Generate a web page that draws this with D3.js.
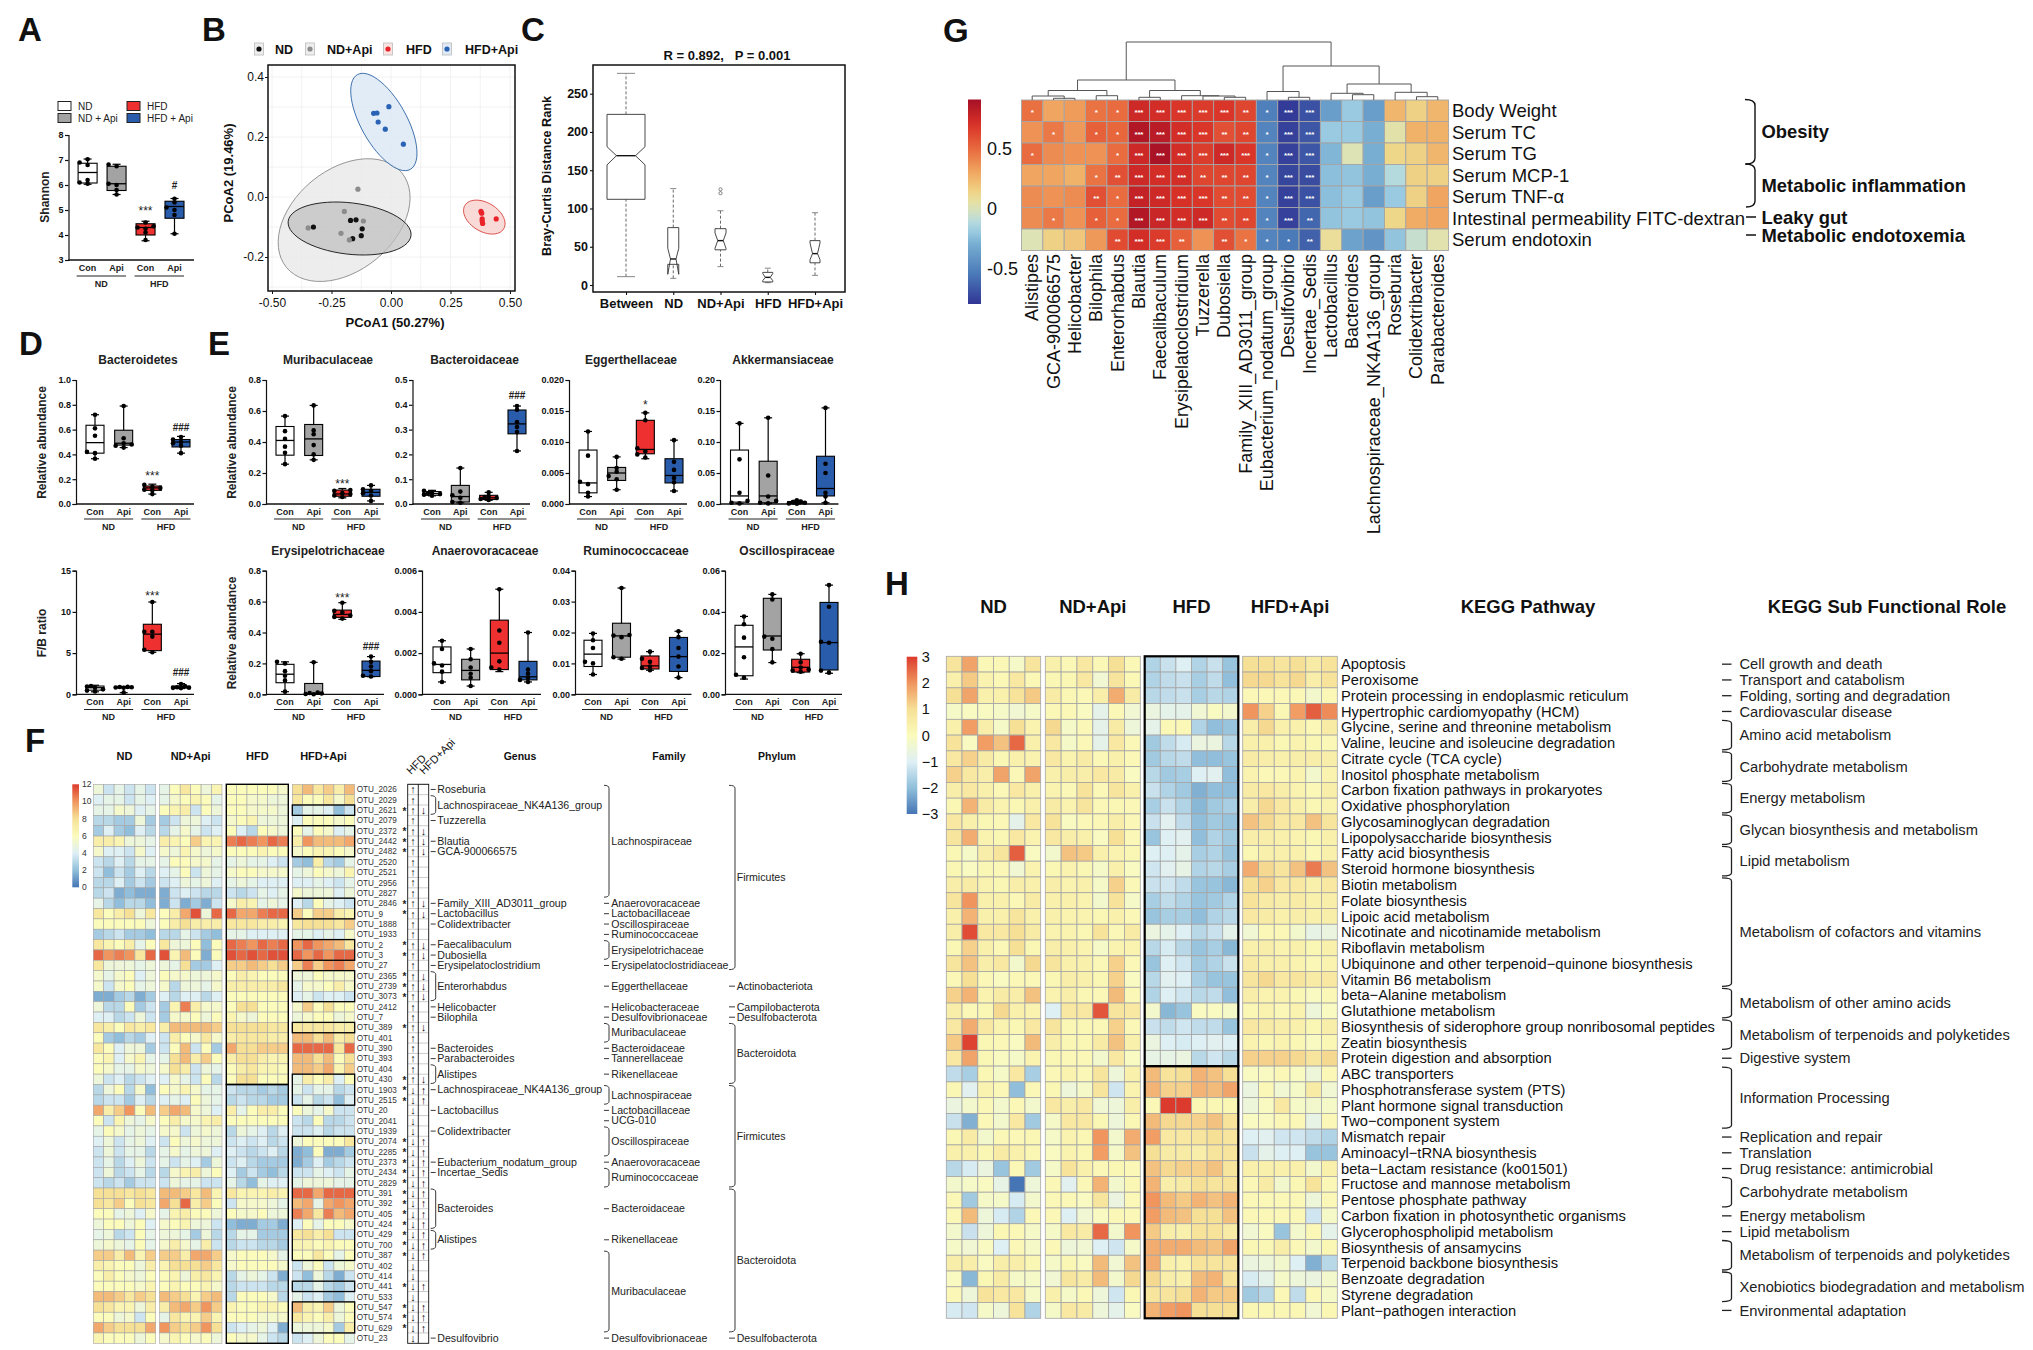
<!DOCTYPE html>
<html><head><meta charset="utf-8">
<script src="https://cdn.jsdelivr.net/npm/d3@7/dist/d3.min.js"></script>
<style>
html,body{margin:0;padding:0;background:#fff}
svg{display:block}
text{font-family:"Liberation Sans",Arial,sans-serif;fill:#111}
</style></head><body><svg id="chart" width="2033" height="1350"></svg>
<script>
// ---------- DATA ----------
const groupFills = ["#ffffff","#a3a3a3","#ef3030","#2a5cac"];
const boxFields = ["Con","Api","Con","Api"];
// five number summaries [min,q1,median,q3,max] and six animal points
const shannonBoxes=[[6.03,6.08,6.5,6.87,7.04],[5.62,5.78,6.05,6.75,6.83],[3.77,4.0,4.3,4.45,4.55],[4.05,4.67,5.14,5.35,5.46]];
const shannonPts=[[6.05,6.1,6.2,6.8,6.9,7.03],[5.62,5.8,6.0,6.05,6.75,6.82],[3.8,4.1,4.25,4.3,4.35,4.5],[4.05,4.8,5.0,5.1,5.3,5.45]];
const bacteroidetesBoxes=[[.365,.41,.495,.635,.72],[.455,.475,.49,.595,.79],[.08,.11,.13,.145,.16],[.41,.46,.5,.52,.545]];
const bacteroidetesPts=[[.365,.41,.42,.55,.61,.72],[.455,.47,.48,.49,.53,.79],[.08,.11,.115,.13,.14,.155],[.41,.47,.49,.5,.52,.54]];
const fbBoxes=[[.3,.5,.8,1.0,1.1],[.2,.8,.85,.9,.95],[5.1,5.3,7.3,8.5,11.2],[.7,.75,.85,1.0,1.3]];
const fbPts=[[.35,.45,.6,.8,.95,1.0],[.2,.8,.82,.85,.88,.9],[5.1,5.4,7.0,7.6,7.6,11.2],[.75,.78,.8,.85,1.0,1.25]];
const muriBoxes=[[.257,.315,.41,.5,.567],[.285,.313,.42,.513,.636],[.04,.05,.065,.09,.1],[.02,.05,.075,.095,.12]];
const muriPts=[[.257,.33,.37,.42,.47,.567],[.285,.32,.38,.45,.475,.636],[.045,.055,.065,.07,.085,.09],[.02,.055,.07,.085,.095,.12]];
const bacteroidaceaeBoxes=[[.033,.035,.042,.05,.055],[.005,.008,.03,.075,.145],[.015,.018,.025,.035,.047],[.214,.283,.323,.379,.395]];
const bacteroidaceaePts=[[.033,.037,.04,.043,.048,.053],[.005,.008,.025,.035,.05,.145],[.016,.02,.024,.028,.032,.047],[.214,.29,.31,.33,.38,.395]];
const eggerBoxes=[[.0012,.0018,.0034,.0087,.0117],[.0023,.0038,.005,.0059,.0076],[.0073,.0081,.0088,.0135,.0147],[.0021,.0034,.0046,.0073,.0103]];
const eggerPts=[[.0012,.0018,.0032,.0036,.0078,.0117],[.0023,.004,.0045,.0052,.0058,.0076],[.0075,.008,.0085,.009,.0135,.0147],[.0021,.0035,.0042,.0055,.0068,.0103]];
const akkerBoxes=[[.001,.003,.013,.087,.13],[.001,.002,.013,.069,.139],[0,.0005,.002,.004,.006],[.002,.013,.025,.077,.155]];
const akkerPts=[[.001,.002,.005,.018,.072,.13],[.001,.002,.005,.012,.046,.139],[.0005,.001,.002,.003,.004,.006],[.002,.012,.018,.05,.065,.155]];
const erysBoxes=[[.017,.075,.13,.194,.21],[0,0,.005,.07,.207],[.485,.498,.517,.545,.593],[.114,.115,.155,.215,.244]];
const erysPts=[[.017,.09,.12,.15,.2,.21],[0,.002,.005,.008,.012,.207],[.49,.5,.51,.53,.54,.593],[.115,.12,.15,.18,.21,.244]];
const anaeroBoxes=[[.0006,.00105,.00145,.0023,.0026],[.0004,.0007,.00116,.0017,.0022],[.0011,.0012,.002,.0036,.0051],[.0006,.0007,.00085,.0016,.003]];
const anaeroPts=[[.0006,.0011,.0014,.0015,.0022,.0026],[.0004,.0008,.001,.0013,.0017,.0022],[.0012,.0013,.0016,.0025,.0031,.0051],[.0006,.0007,.0008,.001,.0012,.003]];
const rumiBoxes=[[.0064,.009,.013,.0175,.0197],[.0114,.012,.0189,.023,.0344],[.0078,.0082,.0092,.0124,.0138],[.0054,.0074,.0122,.0184,.0204]];
const rumiPts=[[.0064,.01,.0105,.015,.0175,.0197],[.0115,.012,.0185,.019,.0192,.0344],[.0078,.0085,.009,.0105,.0115,.0138],[.0054,.009,.0122,.015,.0185,.0204]];
const osciBoxes=[[.0074,.009,.023,.0335,.0378],[.0154,.0215,.0283,.0466,.0485],[.0105,.0108,.0131,.017,.0197],[.0102,.0118,.0251,.0446,.053]];
const osciPts=[[.008,.0095,.018,.0275,.034,.0378],[.0155,.022,.027,.028,.046,.0485],[.011,.0115,.012,.013,.0155,.0197],[.0105,.0115,.025,.0255,.0425,.053]];

const pcoaGroups=["ND","ND+Api","HFD","HFD+Api"];
const pcoaColors=["#111111","#8c8c8c","#e8232a","#2a62b5"];
const pcoaNDx=[-.17,-.147,-.121,-.125,-.161,-.326], pcoaNDy=[-.078,-.076,-.106,-.129,-.139,-.1];
const pcoaNDApix=[-.139,-.196,-.116,-.348,-.21,-.175], pcoaNDApiy=[.026,-.048,-.08,-.103,-.121,-.143];
const pcoaHFDx=[.378,.381,.383,.383,.385,.442], pcoaHFDy=[-.048,-.054,-.073,-.08,-.088,-.073];
const pcoaHFDApix=[-.009,-.073,-.059,-.054,-.024,.052], pcoaHFDApiy=[.301,.279,.28,.25,.226,.176];
// ellipses: centre x,y and two half-axis vectors in PCoA units
const ellipseNDApi=[-.197,-.077,.242,.158,-.135,.13];
const ellipseND=[-.174,-.105,.258,-.024,.013,.085];
const ellipseHFD=[.392,-.067,.0815,-.039,.031,.041];
const ellipseHFDApi=[-.03,.25,.111,-.158,-.084,-.037];

const anosimNames=["Between","ND","ND+Api","HFD","HFD+Api"];
// [whiskerLow,q1,notchLow,median,notchHigh,q3,whiskerHigh]
const anosimStats=[[10.9,112,157,169,180.7,223,276.6],[8.7,27,14,34,48,75,126],[24,46,48,58,68,73.6,97],[3,4,5.7,10,15,16.5,22],[12.6,29,33,41,55,58,94.5]];
const anosimOutliers=[[],[],[120,125],[],[]];

const corrGenera=["Alistipes","GCA-900066575","Helicobacter","Bilophila","Enterorhabdus","Blautia","Faecalibaculum","Erysipelatoclostridium","Tuzzerella","Dubosiella","Family_XIII_AD3011_group","Eubacterium_nodatum_group","Desulfovibrio","Incertae_Sedis","Lactobacillus","Bacteroides","Lachnospiraceae_NK4A136_group","Roseburia","Colidextribacter","Parabacteroides"];
const corrTraits=["Body Weight","Serum TC","Serum TG","Serum MCP-1","Serum TNF-α","Intestinal permeability FITC-dextran","Serum endotoxin"];
const corrValues=[
[.47,.3,.33,.46,.48,.74,.72,.68,.66,.68,.62,-.52,-.78,-.7,-.38,-.2,-.38,.24,.14,.24],
[.36,.44,.34,.52,.5,.85,.82,.72,.68,.58,.62,-.5,-.76,-.68,-.2,-.2,-.3,.03,.26,.26],
[.48,.38,.36,.36,.48,.75,.88,.72,.65,.74,.68,-.5,-.76,-.68,-.27,0,-.3,.12,.14,.24],
[.3,.3,.26,.46,.58,.74,.72,.72,.62,.62,.62,-.5,-.74,-.72,-.24,-.22,-.3,-.12,.14,.14],
[.38,.36,.38,.58,.48,.78,.74,.7,.68,.6,.6,-.5,-.76,-.7,-.24,-.2,-.38,-.2,.14,.3],
[.38,.44,.36,.52,.48,.85,.76,.72,.74,.6,.62,-.5,-.76,-.62,-.22,-.2,-.22,.12,.28,.3],
[0,.14,.18,.34,.6,.72,.66,.52,.36,.58,.46,-.5,-.55,-.64,.07,-.36,-.42,-.22,-.07,.02]];
const corrStars=[
["*","","","*","*","***","***","***","***","***","**","*","***","***"],
["","*","","*","*","***","***","***","***","**","**","*","***","***"],
["*","","","","*","***","***","***","***","***","***","*","***","***"],
["","","","*","**","***","***","***","**","**","**","*","***","***"],
["","","","**","*","***","***","***","***","**","**","*","***","***"],
["","*","","*","*","***","***","***","***","**","**","*","***","**"],
["","","","","**","***","***","**","","**","*","*","*","**"]];
// dendrogram: [height,left,right]; a number is a leaf column
const corrTree=[58,[20,[9.5,[4,0,[1.7,1,2]],[4.3,3,4]],[9.5,[2.7,5,6],[4.3,7,[4,8,[2.7,9,10]]]]],[34,[8.5,11,[2.7,12,13]],[16,[6.7,14,[5.3,15,16]],[7.7,17,[3.3,18,19]]]]];
const corrTopics=["Obesity","Metabolic inflammation","Leaky gut","Metabolic endotoxemia"];

const otuNames=["OTU_2026","OTU_2029","OTU_2621","OTU_2079","OTU_2372","OTU_2442","OTU_2482","OTU_2520","OTU_2521","OTU_2956","OTU_2827","OTU_2846","OTU_9","OTU_1888","OTU_1933","OTU_2","OTU_3","OTU_27","OTU_2365","OTU_2739","OTU_3073","OTU_2412","OTU_7","OTU_389","OTU_401","OTU_390","OTU_393","OTU_404","OTU_430","OTU_1903","OTU_2515","OTU_20","OTU_2041","OTU_1939","OTU_2074","OTU_2285","OTU_2373","OTU_2434","OTU_2829","OTU_391","OTU_392","OTU_405","OTU_424","OTU_429","OTU_700","OTU_387","OTU_402","OTU_414","OTU_441","OTU_533","OTU_547","OTU_574","OTU_629","OTU_23"];
const otuStarred=[2,4,5,6,11,12,15,16,18,19,20,23,28,29,30,34,35,36,37,38,39,40,41,42,43,44,45,48,50,51,52];
const otuFirstDown=29;
const otuBoxedRuns=[[2,2],[4,6],[11,12],[15,16],[18,20],[23,23],[28,30],[34,45],[48,48],[50,52]];
const otuHFDRuns=[[0,28],[29,53]];
const otuMatrix=[
[5,3.5,4.5,3.5,4.5,3.5,4.5,6,7.5,6,5,6.5,6,6,6,6,6,5.5,8,9,7.5,8.5,7,9],
[4,4.5,4.5,3.5,4.5,4,4.5,5.5,6,6.5,6,4.5,6,6,5.5,5.5,5,5,7.5,6,6,7.5,5.5,8],
[4.5,4.5,5.5,5,4,4.5,6,6.5,7,3.5,6,5,6,6,5.5,5.5,5.5,5,2.5,4.5,4.5,4,2,3.5],
[3,3,2.5,2.5,5,2.5,2.5,3.5,5,5,4,3.5,5.5,6,6.5,5,5,5,4,6,6,6,5.5,6],
[2.5,4,2.5,2,4,3,3,4.5,5.5,4.5,3.5,4,6,4,3,6,5.5,5,6,4.5,6,5.5,4,4.5],
[7,7,6.5,5,5,4.5,7,6.5,6,8.5,6.5,6.5,10.5,11,10.5,10,11,10.5,7,10,9,9,9,9.5],
[5.5,4,4,3.5,5.5,4,5.5,5,6.5,5.5,5,5.5,6,6,6,6.5,6,6,5.5,6,6.5,6.5,6,5.5],
[3.5,3,4,3,4.5,4.5,4.5,6,6,5.5,5.5,4.5,4.5,5,4.5,4.5,4,3.5,2.5,2,7,3,2.5,4.5],
[3.5,2,3.5,2.5,4,3,4,4.5,6,3.5,5,4.5,5.5,6,6,5.5,5.5,5.5,4.5,5,6,5.5,5,6.5],
[3,3,4,2.5,3.5,2.5,3.5,4,5,4.5,5,4,4.5,5,4.5,4,4,4,4,4,4.5,4,3.5,4.5],
[3,3.5,1.5,2,1.5,1.5,1.5,3.5,4,3.5,3,3,3.5,3,3.5,4.5,4,4.5,5.5,5,5,5,4,5],
[4.5,3,2,3,3,2,1.5,3.5,1.5,2.5,1.5,3.5,5.5,7,6.5,4.5,5,4.5,4,3,6,4.5,4,3.5],
[7.5,6,7,8,5,7.5,6,7,9.5,11.5,5,11,11,9.5,9.5,10.5,11,11,8.5,6,8.5,8.5,7,6.5],
[6,6,6,6,6,5,6,7,8,7,7,7,7.5,7.5,7.5,7,7,6.5,7.5,8,8,8,7.5,8.5],
[2.5,3,3.5,2.5,2.5,2,3,3,4.5,3.5,2.5,2,4.5,4.5,4,4,4,4,4.5,4.5,4,4.5,4,5.5],
[7.5,6.5,6,7,4.5,6,7.5,5,5,6,2,6,11,10.5,10,11,10.5,11,10,11,10,9.5,9,7.5],
[11,10,10.5,10,7.5,11,11.5,6.5,9,6,1.5,6,11.5,11,11.5,11,11.5,11.5,11,10,11,10,11,11],
[7.5,5,5,5,4.5,5,5,4.5,8,2.5,2.5,4,8.5,8.5,9,8.5,8,8.5,8.5,10.5,8.5,10,10.5,9.5],
[5.5,4.5,5.5,6,4,5,6,5.5,5.5,5,5,5.5,6,7,6.5,6,6,6,5,5,6,5.5,5.5,5.5],
[5.5,3.5,5.5,6,4.5,5,5.5,3,5,5,4.5,5.5,7,7,7,7,7,7.5,4.5,5.5,5.5,6,7,5.5],
[1.5,1.5,2.5,3,1.5,2.5,4,3,4,4,3,4,6,6,6,6,6,6,4,4.5,3.5,4,4,3.5],
[5,3,3,6,2.5,3.5,2.5,6.5,10.5,7,5.5,5.5,6,8,8,6,6,6,5.5,8.5,6,8,6,6],
[4,4,3,3.5,5,3.5,2.5,5.5,5.5,6,5,6,6.5,5.5,5,6,6,6,5,5.5,6,6,5,5.5],
[7.5,7,6,7.5,7,7.5,7,9,9,9,9,8.5,8,8,8,8,7.5,7.5,7.5,7.5,7.5,7.5,7,7],
[6,2.5,2,3,2.5,4,3.5,7,6,5.5,7.5,5.5,7,7.5,7.5,7.5,7,7,9,9,8,9,7,8],
[7.5,6,4,5,5,2.5,3.5,6,9,3.5,6,2.5,9.5,8,8,8.5,8.5,8.5,11,11,11,11,7.5,11],
[6,6.5,4,5.5,6.5,4.5,4.5,8,9,7,8.5,6,7,8,8,7,6.5,6.5,9,9,8,9,6,8],
[6,5.5,4.5,4.5,5.5,5,5.5,8,7,3.5,5,4.5,6,7,7.5,6.5,6.5,6,9,9,8.5,9.5,6.5,8.5],
[5,3.5,4,3,3.5,4,4,5.5,4.5,3.5,6,3,6,8,8,6,6,6,4.5,7,6,7,4,6],
[3,5,6,3,5.5,2,6,5.5,6.5,5.5,4.5,4.5,3.5,3,3,2.5,3,2.5,4.5,3.5,4.5,4.5,3,3.5],
[3,3.5,3.5,2.5,4,3,4,4.5,4,6,5,4.5,3,3.5,3,3,2.5,2.5,3.5,4.5,3,3.5,2,4],
[9.5,7,8.5,10,6,9,8.5,9.5,9,5.5,5,4,7,4.5,6,7,7,6,6,5,4.5,5.5,3.5,3.5],
[6,3.5,6.5,5,4.5,5.5,6,7,5.5,5.5,6.5,7,6,6,6,6,6,6,3.5,3,6,3,3,3.5],
[4.5,6,5.5,4.5,5,4.5,5.5,5.5,3.5,5,5.5,5,3,5,4.5,4,3,4,3.5,3.5,4,3,3.5,3.5],
[4,5,3.5,4.5,5,4,3.5,6,5,5.5,5,5,3.5,4,3.5,4,3,3.5,5,6,6,6,6,7.5],
[3.5,5,3.5,4.5,4.5,3,4.5,5.5,4.5,5,5,4,4,3.5,3,3.5,4,3,1.5,2,6,1.5,1.5,2.5],
[3.5,4.5,3,4,5,3.5,4.5,3.5,4.5,4,2.5,5,3.5,4,3,2.5,2.5,2.5,1.5,2.5,4,2.5,3,3.5],
[3.5,5,3,3.5,4.5,3,3,5.5,6.5,7,5,6,4,2.5,3.5,2.5,2,3,3.5,3.5,4.5,4,3.5,4.5],
[3.5,3,3.5,2.5,3.5,3.5,3.5,5,4.5,4.5,3.5,3.5,4.5,3,2,4.5,4,4,4.5,5,5,5,4.5,4.5],
[8,8,8,7.5,8,7.5,9,9,8.5,7.5,9,6.5,7.5,6.5,6.5,6.5,7,6.5,11,11,9.5,11,11,11],
[8,7.5,8.5,6,8,7.5,9.5,8,11,7,8.5,6,3.5,5.5,5.5,5.5,5,4.5,9,9.5,4.5,9.5,10,9.5],
[6,6,4.5,5,4,5.5,4.5,6.5,7,6,6,5,6,5.5,5.5,6,5,5,10.5,9.5,7.5,10.5,9,9.5],
[5,6,6,5,6,4,5.5,6,6.5,5,5,3.5,2,1.5,1.5,2.5,2.5,1.5,4,6,4.5,6,6,5.5],
[4.5,5,3,3.5,6,4.5,5,5,4.5,2.5,5,3,3,4.5,4.5,2.5,2.5,2.5,7.5,8,7,8,3.5,3.5],
[5,5.5,5,4.5,6,4.5,5.5,7,5.5,4.5,7,3.5,3,3.5,3.5,3,3,2.5,6.5,6.5,6,6.5,6,6],
[8.5,8.5,7,9,6.5,8.5,8.5,8.5,7,9.5,9.5,8.5,5.5,6,6,6,5.5,4.5,6,6,7.5,6,4.5,6],
[7,6.5,6,6,5,7,6.5,8,8,8,8.5,7.5,5.5,6,6,6,6,5.5,3.5,5,6,3.5,5,5.5],
[6,7,6,5.5,5,6,6,6.5,5,7,7.5,6.5,3,4.5,5,4.5,3.5,1.5,3.5,2,5,3,1.5,3.5],
[6,6,6,6,5.5,6.5,6,6.5,6,6,6.5,5.5,3,3.5,3.5,3.5,3,3,3,3,4.5,3,2.5,3.5],
[9,9,8.5,7.5,8.5,8,9,8.5,8,6.5,8.5,9,3,6,6,6,5.5,3,4.5,3.5,4,2.5,2,4],
[8,7.5,6.5,6.5,5,7,7,9,9.5,8.5,10,8.5,6.5,6,6,6.5,6.5,6,9,7,6.5,8.5,5,6],
[6,6,5,5.5,3.5,6,4.5,7.5,6.5,6.5,8.5,6.5,6,6,6,5.5,5.5,5.5,7.5,6.5,6,7,5,6],
[9.5,8.5,8,8,8,9.5,10,8.5,8,8.5,10,8,3.5,4,4.5,5,4,1.5,5,5,5,5.5,2.5,7],
[6.5,6,6,6,5,6,5.5,6.5,6,5.5,6,5,6,5.5,5.5,4.5,3.5,3,3.5,4,5,6,6,4.5]];
const heatGroups=["ND","ND+Api","HFD","HFD+Api"];
const otuGenus=[["Roseburia",0,0],["Lachnospiraceae_NK4A136_group",1,2],["Tuzzerella",3,3],["Blautia",5,5],["GCA-900066575",6,6],["Family_XIII_AD3011_group",11,11],["Lactobacillus",12,12],["Colidextribacter",13,13],["Faecalibaculum",15,15],["Dubosiella",16,16],["Erysipelatoclostridium",17,17],["Enterorhabdus",18,20],["Helicobacter",21,21],["Bilophila",22,22],["Bacteroides",25,25],["Parabacteroides",26,26],["Alistipes",27,28],["Lachnospiraceae_NK4A136_group",29,29],["Lactobacillus",31,31],["Colidextribacter",33,33],["Eubacterium_nodatum_group",36,36],["Incertae_Sedis",37,37],["Bacteroides",39,42],["Alistipes",43,44],["Desulfovibrio",53,53]];
const otuFamily=[["Lachnospiraceae",0,10],["Anaerovoracaceae",11,11],["Lactobacillaceae",12,12],["Oscillospiraceae",13,13],["Ruminococcaceae",14,14],["Erysipelotrichaceae",15,16],["Erysipelatoclostridiaceae",17,17],["Eggerthellaceae",19,19],["Helicobacteraceae",21,21],["Desulfovibrionaceae",22,22],["Muribaculaceae",23,24],["Bacteroidaceae",25,25],["Tannerellaceae",26,26],["Rikenellaceae",27,28,"dash"],["Lachnospiraceae",29,30],["Lactobacillaceae",31,31],["UCG-010",32,32],["Oscillospiraceae",33,35],["Anaerovoracaceae",36,36],["Ruminococcaceae",37,38],["Bacteroidaceae",39,42,"dash"],["Rikenellaceae",43,44,"dash"],["Muribaculaceae",45,52],["Desulfovibrionaceae",53,53]];
const otuPhylum=[["Firmicutes",0,17],["Actinobacteriota",19,19],["Campilobacterota",21,21],["Desulfobacterota",22,22],["Bacteroidota",23,28],["Firmicutes",29,38],["Bacteroidota",39,52],["Desulfobacterota",53,53]];

const pathwayNames=["Apoptosis","Peroxisome","Protein processing in endoplasmic reticulum","Hypertrophic cardiomyopathy (HCM)","Glycine, serine and threonine metabolism","Valine, leucine and isoleucine degradation","Citrate cycle (TCA cycle)","Inositol phosphate metabolism","Carbon fixation pathways in prokaryotes","Oxidative phosphorylation","Glycosaminoglycan degradation","Lipopolysaccharide biosynthesis","Fatty acid biosynthesis","Steroid hormone biosynthesis","Biotin metabolism","Folate biosynthesis","Lipoic acid metabolism","Nicotinate and nicotinamide metabolism","Riboflavin metabolism","Ubiquinone and other terpenoid−quinone biosynthesis","Vitamin B6 metabolism","beta−Alanine metabolism","Glutathione metabolism","Biosynthesis of siderophore group nonribosomal peptides","Zeatin biosynthesis","Protein digestion and absorption","ABC transporters","Phosphotransferase system (PTS)","Plant hormone signal transduction","Two−component system","Mismatch repair","Aminoacyl−tRNA biosynthesis","beta−Lactam resistance (ko01501)","Fructose and mannose metabolism","Pentose phosphate pathway","Carbon fixation in photosynthetic organisms","Glycerophospholipid metabolism","Biosynthesis of ansamycins","Terpenoid backbone biosynthesis","Benzoate degradation","Styrene degradation","Plant−pathogen interaction"];
const pathwayMatrix=[
[.8,1.8,.1,.1,-.2,.8,.4,.1,.7,.1,1,.1,-1.6,-1.3,-1,-1.6,-1.3,-1.9,1,1,.8,1,.6,.9],
[.4,1.3,.3,.1,.7,.1,.2,.2,.7,-.4,.8,.1,-1.6,-1.4,-1.3,-1.7,-1.4,-2,1.1,1.1,.9,1.1,.5,.9],
[1,1.8,.4,.4,.9,1.3,.6,.2,.1,.5,1.7,.6,-1.5,-1.4,-1.3,-1.7,-1.5,-1.6,.1,.1,.1,.1,-.3,.1],
[-.2,-.1,-.1,-.2,-.4,-.2,.1,.1,-.1,-.8,.1,-.4,-.6,-.8,-.8,-.4,-.1,-.3,2,1.2,.2,1.9,2.6,2.1],
[.4,1.9,.5,-.2,1,.3,1.1,-.2,.1,-.8,.6,-.5,-.8,.1,.1,-1.6,-2,-1.9,.5,1.1,.4,.4,.1,.6],
[.9,-.1,1.9,1.4,2.5,.4,.7,-.2,.1,-.8,.7,.1,-1.8,-1.4,-1.1,-.6,-.6,-1.5,.4,.4,.2,.3,.2,.1],
[.7,1.2,.6,.2,.4,.3,.7,.3,.6,.1,.4,.1,-1.8,-1.5,-1.4,-2,-2,-1.9,.6,.5,.4,.5,.5,.5],
[1.2,.7,.5,1.8,.1,1.8,.4,.5,.5,.7,.6,-.1,-1.5,-1.8,-1.7,-1,-.9,-2,.3,.1,.1,.3,-.3,.3],
[.5,.7,.4,.1,.7,.4,.3,.1,.9,.1,.8,.4,-1.3,-1.6,-1.8,-2.2,-2,-2,.6,.7,.5,.3,.1,.5],
[.2,1.6,.6,.3,.2,.4,.6,.3,.8,.1,.2,.1,-1.7,-1.3,-1.6,-2.1,-1.8,-1.7,.5,1.1,.7,.4,.2,.3],
[.7,.4,.2,.1,-.8,.7,.9,-.1,.1,.1,.5,.1,-1.3,-.9,-1.4,-2,-1.8,-1.9,1.4,1.1,.7,.7,1.4,.8],
[.8,1.7,.3,.2,.7,.3,.7,.5,.4,-.1,1,.1,-1.9,-1,-.9,-2,-1.6,-1.8,.5,.5,.4,.3,.2,.4],
[.2,-.2,.5,.8,2.6,-.1,-.3,1.4,1.3,.4,.3,.2,-1,-1,-.8,-1.7,-1.6,-1.9,.2,.4,.4,.4,.1,.4],
[.2,-.1,.2,.1,-.4,.3,.2,.3,.2,-.2,.4,-.1,-1.2,-.9,-.7,-1.6,-1.5,-1.7,1.7,1.1,.8,1.4,2.3,1.4],
[.5,.6,.3,.2,.5,.4,.5,.3,.4,-.2,1.2,.1,-1.3,-1.2,-1.4,-1.9,-1.9,-2.1,1,1.2,.7,.7,.4,.7],
[.8,2,.4,.4,.1,.6,.4,.4,.3,-.3,.9,-.2,-1.7,-1.4,-1.6,-1.9,-1.8,-1.6,.9,.6,.5,.6,.4,.5],
[.4,1.6,.4,.4,.8,.4,.4,.3,.3,.2,.4,.1,-1.9,-1.7,-1.7,-2,-1.6,-1.5,.7,.6,.4,.5,.4,.5],
[.5,2.8,.7,.7,1,.6,.3,.3,.2,.9,.1,.6,-.6,-.8,-1,-1.5,-1.3,-.8,-.4,.1,.1,-.3,-.7,-.6],
[.2,1.2,.4,.1,1,.2,.5,.4,.3,-.2,.3,.3,-1.5,-1.1,-1.5,-1.9,-1.7,-2.1,.4,.5,.3,.4,.2,.4],
[.8,1.4,.5,.7,-.3,1.1,.8,.4,.4,.1,1.2,.1,-1.9,-1,-1.2,-1.8,-1.6,-1.3,.6,.4,.4,.3,.1,.3],
[.1,1,.1,-.1,.1,.1,.2,.5,.4,.2,1.2,-.1,-1.5,-.9,-1,-1.7,-1.9,-1.9,.8,1.1,.7,.8,.6,.7],
[1.2,1.6,.3,.6,.5,1.4,.3,.5,.2,.1,1.5,.1,-1.6,-1,-1.2,-1.5,-1.4,-2,.5,.3,.3,.2,-.1,.1],
[.5,.1,.2,1.1,.4,.3,-1,.7,.7,2.7,.8,.7,-.3,-2.1,-1.9,-.1,-.1,-.2,.2,.3,.1,.3,-.5,-.1],
[.7,1.7,.7,.3,.2,.7,.8,.2,.2,.1,1.2,.1,-1.3,-1.4,-1.2,-1.4,-1.4,-1.9,.7,.6,.5,.4,.2,.5],
[1.3,2.9,.2,.1,-.1,1.5,.5,.2,.2,.6,1.4,.4,-.6,-1,-1.1,-1,-.9,-1,.3,.2,.3,.2,-.1,.2],
[.7,1.8,.2,-.1,-.2,.3,.2,.1,.1,-.3,.7,-.1,-.7,-.7,-.6,-1.5,-1.2,-1.5,1.2,1.2,1.2,1.1,.8,1.1],
[-1.4,-1.7,.2,-.2,.7,-1.7,.1,.3,.1,.8,-.5,.4,1.5,.9,1,1.6,1.4,1,-.1,-.1,.1,-.1,-.5,.1],
[.2,-.9,.3,.1,-2,.1,.2,-.5,-.2,.8,-1.2,.3,1.6,1.2,1.2,1.6,1.5,1.8,-.6,.1,-.4,-.2,.6,-.4],
[-.6,-.3,.1,-.3,.1,-.3,.7,.5,.7,-.4,-.5,.5,.1,3,3,.2,.2,.2,-.5,-.1,.7,-.2,-.3,-.2],
[-1.3,-2.2,.1,-.3,.7,-1.8,-.2,.7,.7,.2,-.5,.2,1.5,1.1,1.1,1.2,1.4,.9,-.1,-.1,.1,.1,-.7,.1],
[.2,.6,-.3,.1,.1,.2,-.2,.3,.2,2,-.3,1.7,1.9,.7,.7,.8,1,.8,-1,-.9,-1.2,-1.2,-1.4,-1.6],
[.4,.4,.2,.6,.4,.2,-.1,.3,.2,1.9,-.2,1.4,1,.6,.6,.5,.8,.8,-1.3,-.8,-1,-1,-1.9,-1.9],
[-1.5,-1.1,-.6,-1.9,.1,-1.8,-.2,.9,.4,.1,.2,.1,1.4,1.1,1.2,1.2,1.4,.8,.4,.4,.4,.4,-.3,.4],
[-.3,-.2,-.1,-.7,-3,-.5,.1,-.9,.1,1.6,-.3,.2,1.6,.5,.6,1,.8,.9,.1,.6,-.3,.2,.9,.1],
[.1,-1.8,-.2,-.2,-1.1,-.3,.1,.1,-.1,.8,-.6,.1,2,1.5,1.3,1.6,1.4,1.6,.1,.1,.1,.1,-.5,.1],
[.1,1.5,-.5,-1.1,-1.6,.1,.1,-1,-.4,-.1,.1,.1,1.9,1.5,1.4,1,1,1.4,.1,.1,.1,.1,-1.2,-.2],
[-.3,-1.3,-.5,.2,.1,-.2,-.2,.7,.6,2.5,-.3,2,1.3,.5,.4,.9,.9,.6,-.4,-.1,-1.9,-.3,.1,-.8],
[-.2,-.4,-.1,-1,.1,-.2,.1,-.5,-.4,-1,-1.2,-.2,1.7,1.7,1.7,1.5,1.4,1.8,.2,.2,.5,.1,-.3,.2],
[.5,.5,-.1,.5,.5,.2,-.2,.2,-.1,1.5,-.4,1.4,1.7,.4,.3,.9,.8,.8,-.6,-.5,-.3,-1,-2.2,-1.5],
[-.1,-2.1,.2,.6,-.2,-.2,-.4,.8,.6,1.5,-.3,1.1,1.1,.5,.4,1.5,1.6,.9,-1.1,-.8,-.2,-.5,-.6,-.3],
[.1,-.5,.9,.7,.7,-.2,.4,-.2,.1,-.5,-1.2,.2,.8,.8,1,1.6,1.3,1.3,-1.8,-1.5,.1,-1.4,.1,-.2],
[-1.1,-1.2,-.2,-.5,.9,-1.6,-.2,.7,.6,-.5,-.8,-.1,1.6,1.9,2,1,1,1,.2,.2,.2,.2,-.4,.2]];
const pathwayHFDRuns=[[0,25],[26,41]];
const pathwayRoles=[["Cell growth and death",0,0],["Transport and catabolism",1,1],["Folding, sorting and degradation",2,2],["Cardiovascular disease",3,3],["Amino acid metabolism",4,5],["Carbohydrate metabolism",6,7],["Energy metabolism",8,9],["Glycan biosynthesis and metabolism",10,11],["Lipid metabolism",12,13],["Metabolism of cofactors and vitamins",14,20],["Metabolism of other amino acids",21,22],["Metabolism of terpenoids and polyketides",23,24],["Digestive system",25,25],["Information Processing",26,29],["Replication and repair",30,30],["Translation",31,31],["Drug resistance: antimicrobial",32,32],["Carbohydrate metabolism",33,34],["Energy metabolism",35,35],["Lipid metabolism",36,36],["Metabolism of terpenoids and polyketides",37,38],["Xenobiotics biodegradation and metabolism",39,40],["Environmental adaptation",41,41]];

// ---------- HELPERS ----------
const svg=d3.select("#chart");
function label(g,x,y,t,o={}){
  const s=g.append("text").attr("x",x).attr("y",y).text(t)
    .attr("font-size",o.size||10).attr("text-anchor",o.anchor||"start");
  if(o.bold) s.attr("font-weight","bold");
  if(o.fill) s.style("fill",o.fill);
  if(o.rotate!==undefined) s.attr("transform",`rotate(${o.rotate},${x},${y})`);
  if(o.dy) s.attr("dy",o.dy);
  return s;
}
[["A",18,41],["B",202,41],["C",521,41],["D",19,355],["E",208,355],["F",25,752],["G",943,42],["H",885,595]]
 .forEach(d=>label(svg,d[1],d[2],d[0],{size:33,bold:true}));

function axisStyle(g,w,size,bold){
  g.selectAll("path.domain").attr("stroke","#111").attr("stroke-width",w);
  g.selectAll(".tick line").attr("stroke","#111").attr("stroke-width",w);
  g.selectAll("text").attr("font-size",size).attr("font-family",'"Liberation Sans"').attr("font-weight",bold?"bold":"normal").style("fill","#111");
}
function boxPanel(c){
  const g=svg.append("g");
  const y=d3.scaleLinear().domain(c.domain).range([c.bottom,c.top]);
  const x=d3.scaleLinear().domain([0,3]).range(c.centers);
  const ax=g.append("g").attr("transform",`translate(${c.axisX},0)`)
    .call(d3.axisLeft(y).tickValues(c.ticks).tickSize(3.5).tickPadding(1.5).tickFormat(d3.format(c.fmt)));
  axisStyle(ax,1.2,9,true);
  g.append("line").attr("x1",c.axisX).attr("x2",c.axisEnd).attr("y1",c.bottom).attr("y2",c.bottom).attr("stroke","#111").attr("stroke-width",1.3);
  c.boxes.forEach((b,i)=>{
    const cx=x(i),w=c.boxW/2;
    g.append("line").attr("x1",cx).attr("x2",cx).attr("y1",y(b[0])).attr("y2",y(b[4])).attr("stroke","#000").attr("stroke-width",1.2);
    [b[0],b[4]].forEach(v=>g.append("line").attr("x1",cx-4).attr("x2",cx+4).attr("y1",y(v)).attr("y2",y(v)).attr("stroke","#000").attr("stroke-width",1.2));
    g.append("rect").attr("x",cx-w).attr("width",2*w).attr("y",y(b[3])).attr("height",Math.max(1,y(b[1])-y(b[3]))).attr("fill",groupFills[i]).attr("stroke","#000").attr("stroke-width",1.1);
    g.append("line").attr("x1",cx-w).attr("x2",cx+w).attr("y1",y(b[2])).attr("y2",y(b[2])).attr("stroke","#000").attr("stroke-width",1.3);
    const placed=[];
    c.pts[i].slice().sort(d3.ascending).forEach(v=>{
      const py=y(v);
      const off=[0,-8,8,-4,4,-6,6].find(o=>placed.every(p=>Math.hypot(p[0]-o,p[1]-py)>=3.4));
      const o=off===undefined?0:off;
      placed.push([o,py]);
      g.append("circle").attr("cx",cx+o).attr("cy",py).attr("r",2.3).attr("fill","#000");
    });
    label(g,cx,c.fieldY,boxFields[i],{size:9,bold:true,anchor:"middle",fill:"#222"});
  });
  [[0,1,"ND"],[2,3,"HFD"]].forEach(p=>{
    const a=x(p[0])-11,b=x(p[1])+9.5;
    g.append("line").attr("x1",a).attr("x2",b).attr("y1",c.lineY).attr("y2",c.lineY).attr("stroke","#222").attr("stroke-width",1.1);
    label(g,(a+b)/2,c.groupY,p[2],{size:9,bold:true,anchor:"middle",fill:"#222"});
  });
  if(c.title) label(g,c.title[1],c.title[2],c.title[0],{size:12,bold:true,anchor:"middle",fill:"#222"});
  if(c.ylabel) label(g,c.ylabel[1],c.ylabel[2],c.ylabel[0],{size:12,bold:true,anchor:"middle",rotate:-90,fill:"#222"});
  (c.marks||[]).forEach(m=>label(g,x(m[0]),y(m[1]),m[2],{size:m[2][0]==="*"?12:10,bold:m[2][0]==="#",anchor:"middle",fill:"#222",dy:m[2][0]==="*"?"0.55em":"0.35em"}));
}
const rowTop=380,rowBot=504,row2Top=570.7,row2Bot=694.3;
const P=(cs,ax,domain,ticks,fmt,boxes,pts,title,titleX,ylabel,marks,row)=>{
  const t=row===1?{top:rowTop,bottom:rowBot,fieldY:515,lineY:519,groupY:530,titleY:364}:{top:row2Top,bottom:row2Bot,fieldY:705,lineY:709.5,groupY:720,titleY:555};
  boxPanel({centers:[cs[0],cs[3]],axisX:ax,axisEnd:cs[3]+13,top:t.top,bottom:t.bottom,fieldY:t.fieldY,lineY:t.lineY,groupY:t.groupY,domain,ticks,fmt,boxes,pts,boxW:18,
    title:[title,titleX,t.titleY],ylabel:ylabel?[ylabel,ax-30,(t.top+t.bottom)/2+0.5]:null,marks});
};
// A
boxPanel({centers:[87.6,174.5],axisX:68.5,axisEnd:194,top:135,bottom:260,fieldY:271,lineY:276,groupY:286.5,domain:[3,8],ticks:[3,4,5,6,7,8],fmt:"d",boxes:shannonBoxes,pts:shannonPts,boxW:19,
  ylabel:["Shannon",49,197],marks:[[2,5.05,"***"],[3,5.98,"#"]]});
shannonLegend();
function shannonLegend(){
  const g=svg.append("g");
  [[58,106,0,"ND"],[58,118,1,"ND + Api"],[127,106,2,"HFD"],[127,118,3,"HFD + Api"]].forEach(d=>{
    g.append("rect").attr("x",d[0]).attr("y",d[1]-4.5).attr("width",13).attr("height",9).attr("fill",groupFills[d[2]]).attr("stroke","#222").attr("stroke-width",1);
    label(g,d[0]+20,d[1]+3.5,d[3],{size:10,fill:"#222"});
  });
}
// D
P([95,0,0,181],76,[0,1],[0,.2,.4,.6,.8,1],".1f",bacteroidetesBoxes,bacteroidetesPts,"Bacteroidetes",138,"Relative abundance",[[2,.245,"***"],[3,.615,"###"]],1);
P([95,0,0,181],76,[0,15],[0,5,10,15],"d",fbBoxes,fbPts,"",0,"F/B ratio",[[2,12.3,"***"],[3,2.7,"###"]],2);
// E
P([285,0,0,371],266,[0,.8],[0,.2,.4,.6,.8],".1f",muriBoxes,muriPts,"Muribaculaceae",328,"Relative abundance",[[2,.147,"***"]],1);
P([432,0,0,517],412.5,[0,.5],[0,.1,.2,.3,.4,.5],".1f",bacteroidaceaeBoxes,bacteroidaceaePts,"Bacteroidaceae",474.5,null,[[3,.437,"###"]],1);
P([588,0,0,674],569,[0,.02],[0,.005,.01,.015,.02],".3f",eggerBoxes,eggerPts,"Eggerthellaceae",631,null,[[2,.0164,"*"]],1);
P([739.5,0,0,825.5],720,[0,.2],[0,.05,.1,.15,.2],".2f",akkerBoxes,akkerPts,"Akkermansiaceae",783,null,[],1);
P([285,0,0,371],266,[0,.8],[0,.2,.4,.6,.8],".1f",erysBoxes,erysPts,"Erysipelotrichaceae",328,"Relative abundance",[[2,.643,"***"],[3,.308,"###"]],2);
P([442,0,0,528],422,[0,.006],[0,.002,.004,.006],".3f",anaeroBoxes,anaeroPts,"Anaerovoracaceae",485,null,[],2);
P([593,0,0,678.5],575,[0,.04],[0,.01,.02,.03,.04],".2f",rumiBoxes,rumiPts,"Ruminococcaceae",636,null,[],2);
P([744,0,0,829],725,[0,.06],[0,.02,.04,.06],".2f",osciBoxes,osciPts,"Oscillospiraceae",787,null,[],2);

// B
(function(){
  const g=svg.append("g");
  const x=d3.scaleLinear().domain([-.5,.5]).range([272,510]);
  const y=d3.scaleLinear().domain([-.2,.4]).range([257,77]);
  const L=268,R=515,T=65,B=291;
  [-.5,-.375,-.25,-.125,0,.125,.25,.375,.5].forEach(v=>g.append("line").attr("x1",x(v)).attr("x2",x(v)).attr("y1",T).attr("y2",B).attr("stroke","#efefef").attr("stroke-width",.8));
  [-.3,-.2,-.1,0,.1,.2,.3,.4].forEach(v=>g.append("line").attr("y1",y(v)).attr("y2",y(v)).attr("x1",L).attr("x2",R).attr("stroke","#efefef").attr("stroke-width",.8));
  const ell=[[ellipseNDApi,1,"#e9e9e9","#8a8a8a",.8],[ellipseND,0,"#bdbdbd","#111",.7],[ellipseHFD,2,"#f8d3d0","#d8403a",.85],[ellipseHFDApi,3,"#dce9f6","#2a62a5",.85]];
  const line=d3.line().x(d=>x(d[0])).y(d=>y(d[1])).curve(d3.curveCardinalClosed);
  ell.forEach(e=>{
    const p=e[0];
    const pts=d3.range(0,360,6).map(a=>{const t=a*Math.PI/180;return [p[0]+p[2]*Math.cos(t)+p[4]*Math.sin(t),p[1]+p[3]*Math.cos(t)+p[5]*Math.sin(t)];});
    g.append("path").attr("d",line(pts)).attr("fill",e[2]).attr("fill-opacity",e[4]).attr("stroke",e[3]).attr("stroke-width",.9);
  });
  [[pcoaNDx,pcoaNDy],[pcoaNDApix,pcoaNDApiy],[pcoaHFDx,pcoaHFDy],[pcoaHFDApix,pcoaHFDApiy]].forEach((s,i)=>{
    s[0].forEach((v,j)=>g.append("circle").attr("cx",x(v)).attr("cy",y(s[1][j])).attr("r",2.6).attr("fill",pcoaColors[i]));
  });
  g.append("rect").attr("x",L).attr("y",T).attr("width",R-L).attr("height",B-T).attr("fill","none").attr("stroke","#111").attr("stroke-width",1.5);
  const ax=g.append("g").attr("transform",`translate(0,${B})`).call(d3.axisBottom(x).tickValues([-.5,-.25,0,.25,.5]).tickSize(3).tickPadding(4).tickFormat(d=>d3.format(".2f")(d)));
  axisStyle(ax,1,12,false); ax.select("path.domain").remove();
  const ay=g.append("g").attr("transform",`translate(${L},0)`).call(d3.axisLeft(y).tickValues([-.2,0,.2,.4]).tickSize(3).tickPadding(1).tickFormat(d=>d3.format(".1f")(d)));
  axisStyle(ay,1,12,false); ay.select("path.domain").remove();
  ax.selectAll("text").text(function(){return this.textContent.replace("−","-")});
  ay.selectAll("text").text(function(){return this.textContent.replace("−","-")});
  label(g,395,327,"PCoA1 (50.27%)",{size:13,bold:true,anchor:"middle"});
  label(g,233,173,"PCoA2 (19.46%)",{size:13,bold:true,anchor:"middle",rotate:-90});
  [[259,275],[310,327],[388,406],[447,465]].forEach((k,i)=>{
    g.append("rect").attr("x",k[0]-4.5).attr("y",43).attr("width",9).attr("height",12).attr("fill",i<2?"#eee":(i===2?"#fbe3e0":"#dfeaf6")).attr("stroke","#bbb").attr("stroke-width",.8);
    g.append("circle").attr("cx",k[0]).attr("cy",49).attr("r",2.6).attr("fill",pcoaColors[i]);
    label(g,k[1],53.5,pcoaGroups[i],{size:12.5,bold:true});
  });
})();

// C
(function(){
  const g=svg.append("g");
  const x=d3.scalePoint().domain(anosimNames).range([626,815]);
  const y=d3.scaleLinear().domain([0,250]).range([285,93.7]);
  const L=593,R=845,T=65,B=292;
  const widths=[19,5.5,5.5,5,5], caps=[9,3,3,3,3];
  anosimNames.forEach((n,i)=>{
    const s=anosimStats[i],cx=x(n),w=widths[i];
    [[s[0],s[1]],[s[5],s[6]]].forEach(r=>g.append("line").attr("x1",cx).attr("x2",cx).attr("y1",y(r[0])).attr("y2",y(r[1])).attr("stroke","#444").attr("stroke-width",.8).attr("stroke-dasharray","3,2"));
    [s[0],s[6]].forEach(v=>g.append("line").attr("x1",cx-caps[i]).attr("x2",cx+caps[i]).attr("y1",y(v)).attr("y2",y(v)).attr("stroke","#888").attr("stroke-width",1));
    const pts=[[cx-w,s[5]],[cx+w,s[5]],[cx+w,s[4]],[cx+w/2,s[3]],[cx+w,s[2]],[cx+w,s[1]],[cx-w,s[1]],[cx-w,s[2]],[cx-w/2,s[3]],[cx-w,s[4]]];
    g.append("path").attr("d",d3.line().x(d=>d[0]).y(d=>y(d[1])).curve(d3.curveLinearClosed)(pts)).attr("fill","#fff").attr("stroke","#333").attr("stroke-width",.9);
    g.append("line").attr("x1",cx-w/2).attr("x2",cx+w/2).attr("y1",y(s[3])).attr("y2",y(s[3])).attr("stroke","#111").attr("stroke-width",1.4);
    anosimOutliers[i].forEach(v=>g.append("circle").attr("cx",cx).attr("cy",y(v)).attr("r",1.6).attr("fill","none").attr("stroke","#555").attr("stroke-width",.7));
  });
  g.append("rect").attr("x",L).attr("y",T).attr("width",R-L).attr("height",B-T).attr("fill","none").attr("stroke","#111").attr("stroke-width",1.5);
  const ay=g.append("g").attr("transform",`translate(${L},0)`).call(d3.axisLeft(y).tickValues([0,50,100,150,200,250]).tickSize(3).tickPadding(2));
  axisStyle(ay,1.1,12.5,true); ay.select("path.domain").remove();
  const ax=g.append("g").attr("transform",`translate(0,${B})`).call(d3.axisBottom(x).tickSize(3).tickPadding(4));
  axisStyle(ax,1.1,13,true); ax.select("path.domain").remove();
  label(g,547,176,"Bray-Curtis Distance Rank",{size:12.7,bold:true,anchor:"middle",rotate:-90}).attr("dy","0.35em");
  label(g,727,60,"R = 0.892,   P = 0.001",{size:13,bold:true,anchor:"middle"}).style("white-space","pre");
})();

// colour ramps for the heatmaps
const ramp=["#4575b4","#91bfdb","#dff0f5","#fbfbbb","#f6e096","#f0955e","#dc3a2c"];
const otuColor=d3.scaleLinear().domain(d3.range(7).map(i=>i*2)).range(ramp).clamp(true);
const pathColor=d3.scaleLinear().domain([-3,-2,-1,0,1,2,3]).range(ramp).clamp(true);
const corrColor=d3.scaleLinear().domain([-.8,-.55,-.3,-.15,0,.1,.3,.5,.7,.9])
  .range(["#313695","#4a7ab8","#78aed2","#abd8e8","#dde3b5","#efdc8e","#f0a660","#e8663c","#d73027","#a50f26"]).clamp(true);

function gradient(id,stops){
  let defs=svg.select("defs"); if(defs.empty()) defs=svg.append("defs");
  const lg=defs.append("linearGradient").attr("id",id).attr("x1",0).attr("x2",0).attr("y1",1).attr("y2",0);
  stops.forEach((c,i)=>lg.append("stop").attr("offset",i/(stops.length-1)).attr("stop-color",c));
}
function heatGroups4(g,matrix,color,xRanges,y,sw){
  const x=d3.scaleBand().domain(d3.range(6));
  xRanges.forEach((r,gi)=>{
    x.range(r);
    matrix.forEach((row,ri)=>{
      x.domain().forEach(c=>{
        g.append("rect").attr("x",x(c)).attr("y",y(ri)).attr("width",x.bandwidth()).attr("height",y.bandwidth())
         .attr("fill",color(row[gi*6+c])).attr("stroke","#a5a5a5").attr("stroke-width",sw);
      });
    });
  });
}
function outline(g,x0,x1,y,runs,w){
  runs.forEach(r=>g.append("rect").attr("x",x0).attr("width",x1-x0).attr("y",y(r[0])).attr("height",y(r[1])+y.bandwidth()-y(r[0]))
    .attr("fill","none").attr("stroke","#000").attr("stroke-width",w));
}
function bracket(g,x,y0,y1,w,sw){
  const p=d3.path();const r=Math.min(w,3);
  p.moveTo(x,y0);p.quadraticCurveTo(x+w,y0,x+w,y0+r);p.lineTo(x+w,y1-r);p.quadraticCurveTo(x+w,y1,x,y1);
  g.append("path").attr("d",p.toString()).attr("fill","none").attr("stroke","#222").attr("stroke-width",sw);
}
function annot(g,list,y,dx0,dx1,tx,fs,sw){
  list.forEach(d=>{
    const a=y(d[1]),b=y(d[2])+y.bandwidth(),mid=(a+b)/2;
    if(d[1]===d[2]||d[3]==="dash"){
      g.append("line").attr("x1",dx0).attr("x2",dx1).attr("y1",mid).attr("y2",mid).attr("stroke","#222").attr("stroke-width",sw);
    } else bracket(g,dx0,a+1,b-1,dx1-dx0,sw);
    label(g,tx,mid,d[0],{size:fs,dy:"0.35em",fill:"#222"});
  });
}

// F
(function(){
  const g=svg.append("g");
  const y=d3.scaleBand().domain(d3.range(otuNames.length)).range([784.3,1343.3]);
  const xr=[[93.3,155.7],[159.3,222],[226.3,288.3],[292.3,354.7]];
  heatGroups4(g,otuMatrix,otuColor,xr,y,.6);
  outline(g,xr[2][0],xr[2][1],y,otuHFDRuns,1.4);
  outline(g,xr[3][0],xr[3][1],y,otuBoxedRuns,1.3);
  heatGroups.forEach((n,i)=>label(g,(xr[i][0]+xr[i][1])/2,760,n,{size:11,bold:true,anchor:"middle"}));
  [["Genus",520],["Family",669],["Phylum",777]].forEach(d=>label(g,d[1],760,d[0],{size:10.5,bold:true,anchor:"middle"}));
  label(g,411,775,"HFD",{size:11,rotate:-45});
  label(g,424,775,"HFD+Api",{size:11,rotate:-45});
  otuNames.forEach((n,i)=>{
    const cy=y(i)+y.bandwidth()/2;
    label(g,356.7,cy,n,{size:8.2,dy:"0.35em",fill:"#333"});
    const starred=otuStarred.includes(i);
    if(starred) label(g,404.5,cy,"*",{size:10,anchor:"middle",dy:"0.45em",bold:true,fill:"#222"});
    g.append("line").attr("x1",407.7).attr("x2",428.7).attr("y1",y(i)).attr("y2",y(i)).attr("stroke","#999").attr("stroke-width",.5);
    const up=i<otuFirstDown;
    label(g,413,cy,up?"↑":"↓",{size:11,anchor:"middle",dy:"0.35em"});
    if(starred) label(g,423.5,cy,up?"↓":"↑",{size:11,anchor:"middle",dy:"0.35em"});
  });
  g.append("rect").attr("x",407.7).attr("width",21).attr("y",784.3).attr("height",559).attr("fill","none").attr("stroke","#111").attr("stroke-width",.9);
  g.append("line").attr("x1",418.3).attr("x2",418.3).attr("y1",784.3).attr("y2",1343.3).attr("stroke","#111").attr("stroke-width",.9);
  annot(g,otuGenus,y,430.7,435.7,437.3,10.6,.9);
  annot(g,otuFamily,y,604,609,611.3,10.6,.9);
  annot(g,otuPhylum,y,729,735,736.7,10.6,.9);
  gradient("gradF",otuColor.domain().map(otuColor));
  g.append("rect").attr("x",72.3).attr("y",784.3).attr("width",6.7).attr("height",103).attr("fill","url(#gradF)");
  const ly=d3.scaleLinear().domain([0,12]).range([887.3,784.3]);
  d3.range(0,13,2).forEach(v=>label(g,82,ly(v),String(v),{size:8.5,dy:"0.35em",fill:"#333"}));
})();

// G
(function(){
  const g=svg.append("g");
  const x=d3.scaleBand().domain(d3.range(corrGenera.length)).range([1021.5,1448.5]);
  const y=d3.scaleBand().domain(d3.range(corrTraits.length)).range([100,250.5]);
  corrValues.forEach((row,r)=>row.forEach((v,c)=>{
    g.append("rect").attr("x",x(c)).attr("y",y(r)).attr("width",x.bandwidth()).attr("height",y.bandwidth())
     .attr("fill",corrColor(v)).attr("stroke","#a5a5a5").attr("stroke-width",.9);
    const s=(corrStars[r][c]||"");
    if(s) label(g,x(c)+x.bandwidth()/2,y(r)+y.bandwidth()/2,s,{size:8,anchor:"middle",dy:"0.55em",fill:"#fff",bold:true}).style("letter-spacing","-.2px");
  }));
  corrTraits.forEach((t,r)=>label(g,1452,y(r)+y.bandwidth()/2,t,{size:18.5,dy:"0.35em"}));
  corrGenera.forEach((t,c)=>label(g,x(c)+x.bandwidth()/2+6,254,t,{size:18,anchor:"end",rotate:-90}));
  const h=d3.scaleLinear().domain([0,58]).range([100,42]);
  const lnk=(p)=>g.append("path").attr("d",p).attr("fill","none").attr("stroke","#555").attr("stroke-width",1);
  function tree(n){
    if(typeof n==="number") return {x:x(n)+x.bandwidth()/2,h:0};
    const a=tree(n[1]),b=tree(n[2]);
    lnk(`M${a.x},${h(a.h)}V${h(n[0])}H${b.x}V${h(b.h)}`);
    return {x:(a.x+b.x)/2,h:n[0]};
  }
  tree(corrTree);
  gradient("gradG",d3.range(0,1.001,.05).map(t=>corrColor(-.8+1.7*t)));
  g.append("rect").attr("x",968).attr("y",99.5).attr("width",13).attr("height",204.5).attr("fill","url(#gradG)");
  const ly=d3.scaleLinear().domain([-.5,.5]).range([269,149]);
  [[.5,"0.5"],[0,"0"],[-.5,"-0.5"]].forEach(d=>label(g,987,ly(d[0]),d[1],{size:18,dy:"0.35em"}));
  const brace=(y0,y1)=>{
    const p=d3.path();
    p.moveTo(1745,y0);p.quadraticCurveTo(1755,y0,1755,y0+6);p.lineTo(1755,y1-6);p.quadraticCurveTo(1755,y1,1746,y1);
    g.append("path").attr("d",p.toString()).attr("fill","none").attr("stroke","#111").attr("stroke-width",1.4);
  };
  brace(99.5,164);brace(164,207);
  [[132,0],[186,1],[218,2],[236,3]].forEach(d=>label(g,1761.5,d[0],corrTopics[d[1]],{size:18.4,bold:true,dy:"0.35em"}));
  [217,235].forEach(v=>g.append("line").attr("x1",1746).attr("x2",1756).attr("y1",v).attr("y2",v).attr("stroke","#111").attr("stroke-width",1.5));
})();

// H
(function(){
  const g=svg.append("g");
  const y=d3.scaleBand().domain(d3.range(pathwayNames.length)).range([656.3,1318.3]);
  const xr=[[946.3,1040.7],[1045.3,1140.3],[1144.7,1238.3],[1242.7,1337.3]];
  heatGroups4(g,pathwayMatrix,pathColor,xr,y,.8);
  outline(g,xr[2][0],xr[2][1],y,pathwayHFDRuns,2.2);
  heatGroups.forEach((n,i)=>label(g,(xr[i][0]+xr[i][1])/2,613,n,{size:18.5,bold:true,anchor:"middle"}));
  label(g,1528,613,"KEGG Pathway",{size:18.5,bold:true,anchor:"middle"});
  label(g,1887,613,"KEGG Sub Functional Role",{size:18.5,bold:true,anchor:"middle"});
  pathwayNames.forEach((n,i)=>label(g,1341,y(i)+y.bandwidth()/2,n,{size:14.7,dy:"0.35em"}));
  annot(g,pathwayRoles,y,1722,1731.5,1739.5,14.7,1.3);
  gradient("gradH",pathColor.domain().map(pathColor));
  g.append("rect").attr("x",906.7).attr("y",656.7).attr("width",10.6).attr("height",157.3).attr("fill","url(#gradH)");
  const ly=d3.scaleLinear().domain([-3,3]).range([814,657]);
  [[3,"3"],[2,"2"],[1,"1"],[0,"0"],[-1,"−1"],[-2,"−2"],[-3,"−3"]].forEach(d=>label(g,921.7,ly(d[0]),d[1],{size:14.5,dy:"0.35em"}));
})();
</script></body></html>
